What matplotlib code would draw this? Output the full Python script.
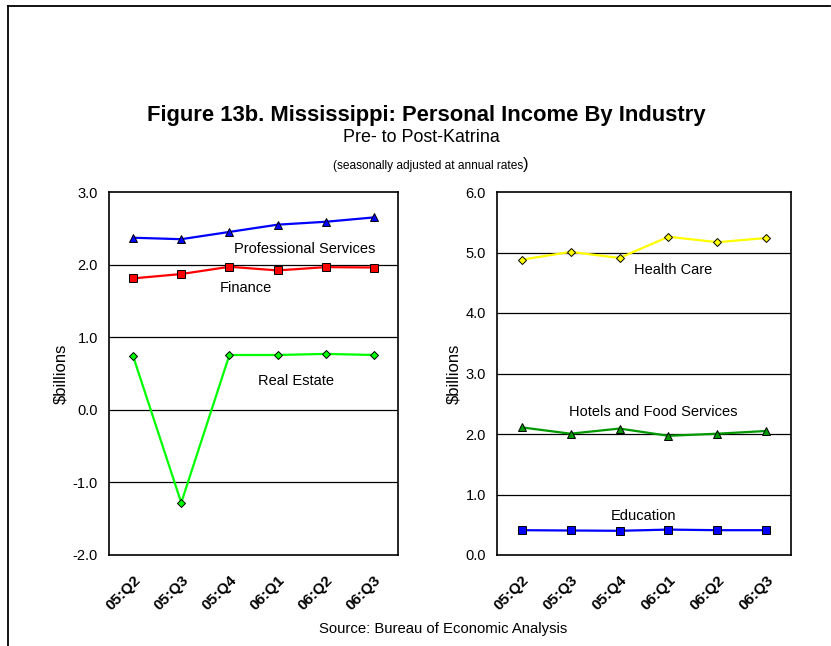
import matplotlib
matplotlib.use("Agg")
import matplotlib.pyplot as plt
from matplotlib.lines import Line2D

plt.rcParams['font.family'] = ['Liberation Sans', 'DejaVu Sans']

quarters = ["05:Q2", "05:Q3", "05:Q4", "06:Q1", "06:Q2", "06:Q3"]

# left panel ($billions)
prof_services = [2.37, 2.35, 2.45, 2.55, 2.59, 2.65]
finance = [1.81, 1.87, 1.97, 1.92, 1.965, 1.96]
real_estate = [0.74, -1.28, 0.755, 0.755, 0.77, 0.755]

# right panel ($billions)
health_care = [4.88, 5.01, 4.91, 5.26, 5.17, 5.24]
hotels_food = [2.11, 2.005, 2.09, 1.97, 2.005, 2.05]
education = [0.41, 0.405, 0.40, 0.42, 0.41, 0.41]

W, H = 831, 646
fig = plt.figure(figsize=(W / 100, H / 100), dpi=100)


def px_axes(x0, y0, x1, y1):
    return fig.add_axes([x0 / W, 1 - y1 / H, (x1 - x0) / W, (y1 - y0) / H])


def style_axes(ax, ylim, yticks):
    ax.set_xlim(0, len(quarters))
    ax.set_ylim(*ylim)
    ax.set_yticks(yticks)
    ax.set_yticklabels(["%.1f" % v for v in yticks], fontsize=10.5)
    ax.set_xticks([i + 0.5 for i in range(len(quarters))])
    ax.set_xticklabels(quarters, rotation=45, ha='right', rotation_mode='anchor',
                       fontsize=11, fontweight='bold')
    ax.tick_params(length=0)
    ax.tick_params(axis='y', pad=8)
    ax.tick_params(axis='x', pad=13)
    for y in yticks[1:-1]:
        ax.axhline(y, color='black', lw=0.9, zorder=1)
    for s in ax.spines.values():
        s.set_linewidth(1.2)
    ax.set_ylabel("\\$billions", fontsize=12, labelpad=3)


xs = [i + 0.5 for i in range(len(quarters))]

ax1 = px_axes(109, 192, 398, 555)
style_axes(ax1, (-2, 3), [-2, -1, 0, 1, 2, 3])
ax1.plot(xs, prof_services, color='#0000FF', lw=1.6, marker='^', ms=6,
         mfc='#0000FF', mec='black', mew=0.7, zorder=3)
ax1.plot(xs, finance, color='#FF0000', lw=1.6, marker='s', ms=5.5,
         mfc='#FF0000', mec='black', mew=0.7, zorder=3)
ax1.plot(xs, real_estate, color='#00FF00', lw=1.6, marker='D', ms=3.8,
         mfc='#00FF00', mec='black', mew=0.7, zorder=3)
ax1.text(4.07, 2.215, "Professional Services", ha='center', va='center', fontsize=10.5)
ax1.text(2.84, 1.68, "Finance", ha='center', va='center', fontsize=10.5)
ax1.text(3.88, 0.40, "Real Estate", ha='center', va='center', fontsize=10.5)

ax2 = px_axes(497, 192, 791, 555)
style_axes(ax2, (0, 6), [0, 1, 2, 3, 4, 5, 6])
ax2.plot(xs, health_care, color='#FFFF00', lw=1.6, marker='D', ms=4.2,
         mfc='#FFFF00', mec='black', mew=0.7, zorder=3)
ax2.plot(xs, hotels_food, color='#009900', lw=1.6, marker='^', ms=6,
         mfc='#009900', mec='black', mew=0.7, zorder=3)
ax2.plot(xs, education, color='#0000FF', lw=1.6, marker='s', ms=5.5,
         mfc='#0000FF', mec='black', mew=0.7, zorder=3)
ax2.text(3.59, 4.71, "Health Care", ha='center', va='center', fontsize=10.5)
ax2.text(3.18, 2.36, "Hotels and Food Services", ha='center', va='center', fontsize=10.5)
ax2.text(3.0, 0.64, "Education", ha='center', va='center', fontsize=10.5)

# titles
fig.text(426 / W, 1 - 115 / H, "Figure 13b. Mississippi: Personal Income By Industry",
         ha='center', va='center', fontsize=15.8, fontweight='bold')
fig.text(421 / W, 1 - 137 / H, "Pre- to Post-Katrina", ha='center', va='center', fontsize=12.9)
fig.text(523 / W, 1 - 166 / H, "(seasonally adjusted at annual rates",
         ha='right', va='center', fontsize=8.6)
fig.text(523 / W, 1 - 164 / H, ")", ha='left', va='center', fontsize=12)
fig.text(443 / W, 1 - 629 / H, "Source: Bureau of Economic Analysis",
         ha='center', va='center', fontsize=10.7)

# outer frame (left and top edges visible)
fig.add_artist(Line2D([8 / W, 8 / W], [0, 1 - 6 / H], color='black', lw=1.3,
                      transform=fig.transFigure))
fig.add_artist(Line2D([8 / W, 830 / W], [1 - 6 / H, 1 - 6 / H], color='black', lw=1.3,
                      transform=fig.transFigure))

fig.savefig("out.png", dpi=100)
